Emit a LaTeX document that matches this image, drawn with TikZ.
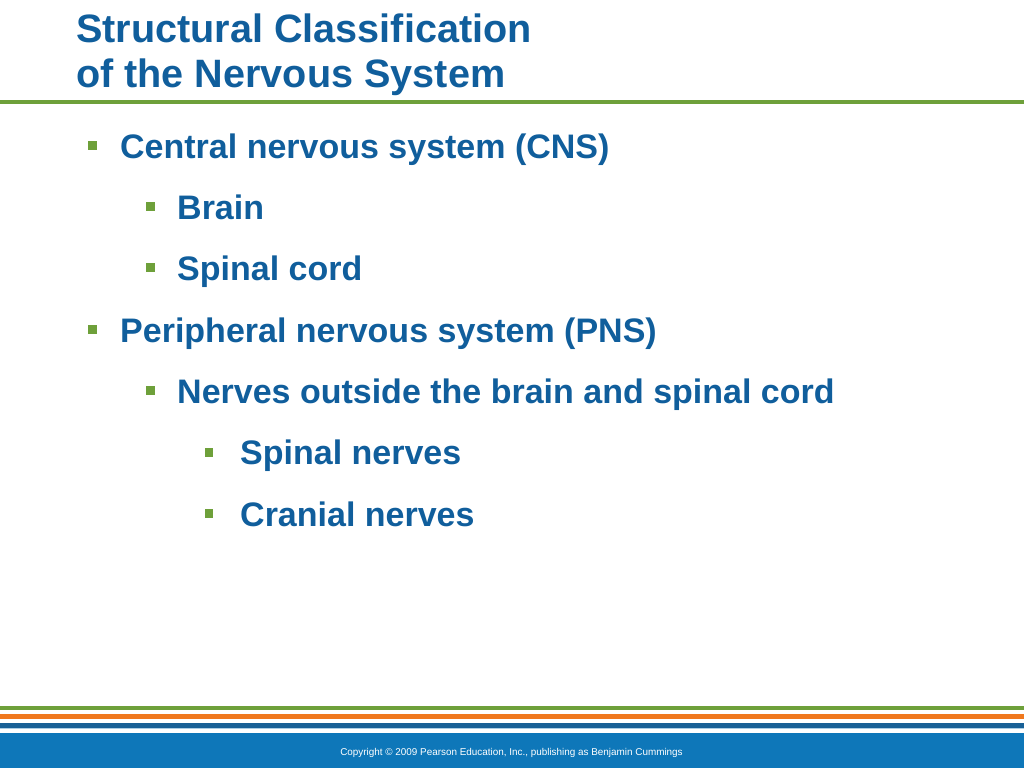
\documentclass[tikz,border=0pt]{standalone}
\usepackage{fontspec}
\setmainfont{Liberation Sans}
\definecolor{textblue}{RGB}{16,94,156}
\definecolor{leafgreen}{RGB}{110,160,58}
\definecolor{stripeorange}{RGB}{240,120,30}
\definecolor{stripeblue}{RGB}{24,96,150}
\definecolor{paleblue}{RGB}{170,205,228}
\definecolor{bandblue}{RGB}{14,119,185}
\tikzset{
  title/.style={anchor=base west,inner sep=0pt,text=textblue,
    font=\fontsize{39.6}{44}\selectfont\bfseries},
  entry/.style={anchor=base west,inner sep=0pt,text=textblue,
    font=\fontsize{34}{40}\selectfont\bfseries},
  bullet/.style={fill=leafgreen,inner sep=0pt,minimum size=8.5pt},
  footer/.style={inner sep=0pt,text=white,font=\fontsize{9.9}{11}\selectfont}
}
\begin{document}
\begin{tikzpicture}[x=1pt,y=-1pt]
  \useasboundingbox (0,0) rectangle (1024,768);
  % heading
  \draw
    (76,43) node[title] (t1){Structural Classification}
    (76,87) node[title] (t2){of the Nervous System};
  \fill[leafgreen] (0,100) rectangle (1024,104);
  % bullet list
  \draw
    (92.5,145.5) node[bullet] (b1){}
    (150.5,206.5) node[bullet] (b2){}
    (150.5,267.5) node[bullet] (b3){}
    (92.5,329.5) node[bullet] (b4){}
    (150.5,390.5) node[bullet] (b5){}
    (209,452.5) node[bullet] (b6){}
    (209,513.5) node[bullet] (b7){};
  \draw
    (120,158.5) node[entry] (cns){Central nervous system (CNS)}
    (177,219.5) node[entry] (brain){Brain}
    (177,280.5) node[entry] (cord){Spinal cord}
    (120,342.5) node[entry] (pns){Peripheral nervous system (PNS)}
    (177,403.5) node[entry] (nerves){Nerves outside the brain and spinal cord}
    (240,464.5) node[entry] (spinal){Spinal nerves}
    (240,526.5) node[entry] (cranial){Cranial nerves};
  % footer stripes
  \fill[leafgreen] (0,706) rectangle (1024,710.3);
  \fill[stripeorange] (0,714.3) rectangle (1024,719.3);
  \fill[stripeblue] (0,723) rectangle (1024,727.5);
  \fill[paleblue] (0,727.5) rectangle (1024,729);
  \fill[bandblue] (0,733) rectangle (1024,768);
  \node[footer] (copy) at (511.5,753)
    {Copyright \textcopyright\ 2009 Pearson Education, Inc., publishing as Benjamin Cummings};
\end{tikzpicture}
\end{document}
